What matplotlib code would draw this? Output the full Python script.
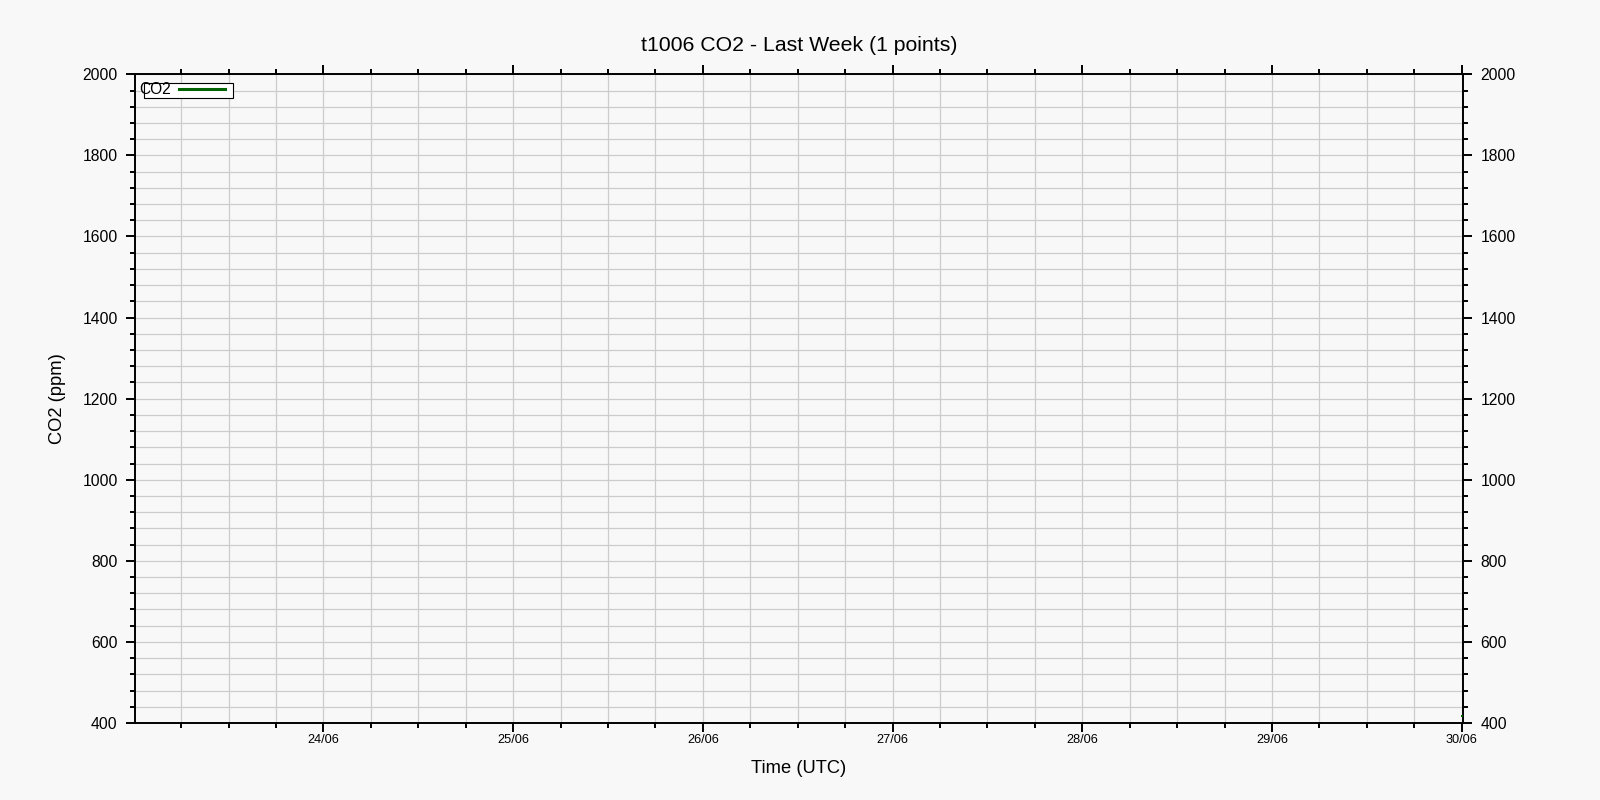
import matplotlib
matplotlib.use("Agg")
import matplotlib.pyplot as plt
import matplotlib.dates as mdates
from matplotlib.patches import Rectangle
from matplotlib.lines import Line2D
from matplotlib.ticker import MultipleLocator
import datetime as dt

# ---- data ----
times = [dt.datetime(2025, 6, 30, 0, 5)]
co2_values = [417]
series_label = "CO2"
title_text = "t1006 CO2 - Last Week (1 points)"
x_label = "Time (UTC)"
y_label = "CO2 (ppm)"
x_start = dt.datetime(2025, 6, 23, 0, 10)
x_end = dt.datetime(2025, 6, 30, 0, 10)
y_min, y_max = 400, 2000

plt.rcParams['font.family'] = ['Liberation Sans', 'DejaVu Sans']

bg = '#f8f8f8'
line_color = '#006400'
fig = plt.figure(figsize=(16, 8), dpi=100, facecolor=bg)
ax = fig.add_axes([135/1600, 1-723/800, (1463-135)/1600, (723-74.3)/800])
ax.set_facecolor(bg)

ax.plot(times, co2_values, color=line_color, lw=2.2, marker='s', markersize=2,
        markeredgewidth=0, zorder=3, clip_on=False)

ax.set_xlim(x_start, x_end)
ax.set_ylim(y_min, y_max)

ax.xaxis.set_major_locator(mdates.DayLocator())
ax.xaxis.set_major_formatter(mdates.DateFormatter('%d/%m'))
ax.xaxis.set_minor_locator(mdates.HourLocator(byhour=[0, 6, 12, 18]))
ax.yaxis.set_major_locator(MultipleLocator(200))
ax.yaxis.set_minor_locator(MultipleLocator(40))

ax.grid(True, which='both', color='#cccccc', lw=0.9, zorder=0)
ax.set_axisbelow(True)

for s in ax.spines.values():
    s.set_linewidth(1.4)
    s.set_color('black')

ax.tick_params(axis='both', which='both', direction='out', top=True, right=True,
               labelright=True, width=1.4, color='black')
ax.tick_params(axis='both', which='major', length=6.5)
ax.tick_params(axis='both', which='minor', length=3.6)
ax.tick_params(axis='y', which='major', labelsize=11.3, pad=6)
ax.tick_params(axis='x', which='major', labelsize=9.2, pad=1.5)

ax.set_title(title_text, fontsize=15.3, pad=16.5)
ax.set_xlabel(x_label, fontsize=13.2, labelpad=10)
ax.set_ylabel(y_label, fontsize=13.2, labelpad=11.5)

handle = Line2D([], [], color=line_color, lw=2.2)
leg = ax.legend([handle], [series_label], loc='upper left',
                bbox_to_anchor=(4/1328, (723-82)/648.7),
                frameon=False, markerfirst=False, borderpad=0, borderaxespad=0,
                handlelength=3.0, handletextpad=0.5, fontsize=11.2)
rect = Rectangle((9/1328, (723-98)/648.7), 89/1328, 15/648.7, transform=ax.transAxes,
                 facecolor='white', edgecolor='black', lw=0.8, zorder=4)
ax.add_patch(rect)
leg.set_zorder(5)

fig.savefig('out.png', dpi=100, facecolor=bg)
